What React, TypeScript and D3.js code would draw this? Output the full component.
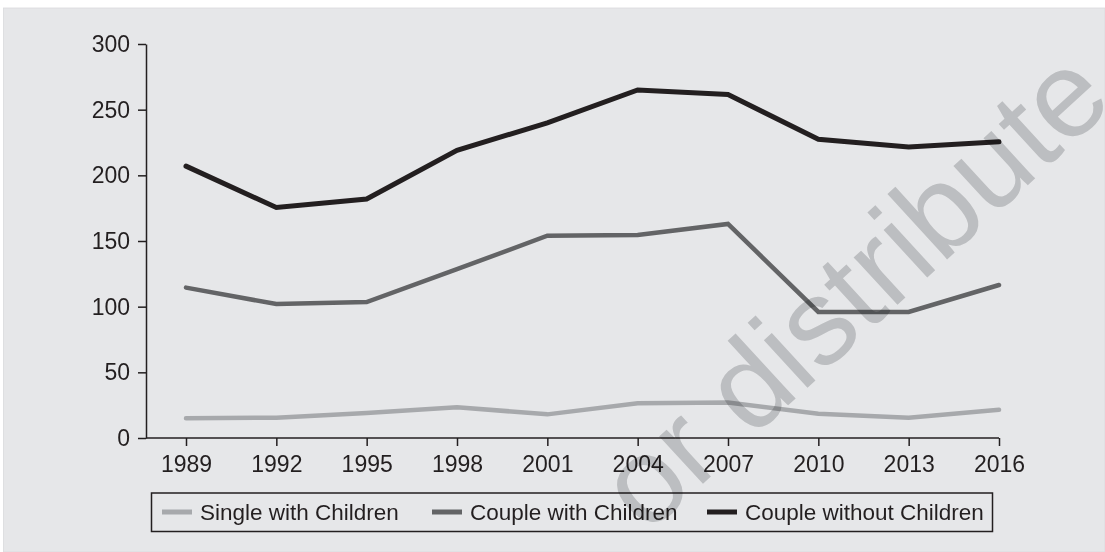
import React, { useEffect, useRef } from "react";
import * as d3 from "d3";

// Survey years on the horizontal axis
const years: number[] = [1989, 1992, 1995, 1998, 2001, 2004, 2007, 2010, 2013, 2016];

// Series values, one per survey year
const singleWithChildren: number[] = [15, 15.5, 19, 23.5, 18, 26.5, 27, 18.5, 15.5, 21.5];
const coupleWithChildren: number[] = [114.5, 102, 103.5, 128.5, 154, 154.5, 163, 96, 96, 116.5];
const coupleWithoutChildren: number[] = [207, 175.5, 182, 219, 240, 265, 261.5, 227.5, 221.5, 225.5];

const seriesNames: string[] = ["Single with Children", "Couple with Children", "Couple without Children"];
const seriesValues: number[][] = [singleWithChildren, coupleWithChildren, coupleWithoutChildren];

const yTicks: number[] = [0, 50, 100, 150, 200, 250, 300];

const watermarkText = "or distribute";

// Styling
const seriesColors = ["#a7a9ac", "#636466", "#231f20"];
const seriesWidths = [4.5, 4.5, 5];
const ink = "#231f20";
const panelFill = "#e6e7e9";
const fontFamily = "'Liberation Sans', Arial, sans-serif";

const W = 1105;
const H = 552;

export default function App() {
  const ref = useRef<SVGSVGElement | null>(null);

  useEffect(() => {
    const svg = d3.select(ref.current);
    svg.selectAll("*").remove();

    // Background panel
    svg
      .append("rect")
      .attr("x", 3.5)
      .attr("y", 8)
      .attr("width", W - 3.5)
      .attr("height", H - 8)
      .attr("fill", panelFill)
      .attr("stroke", "#d9dadc")
      .attr("stroke-width", 0.8);

    const left = 146;
    const x = d3.scalePoint<number>().domain(years).range([186, 999]);
    const y = d3.scaleLinear().domain([0, 300]).range([438, 44]);

    // Y axis
    const gy = svg
      .append("g")
      .attr("transform", `translate(${left},0)`)
      .call(
        d3
          .axisLeft(y)
          .tickValues(yTicks)
          .tickSize(8)
          .tickSizeOuter(0)
          .tickPadding(8)
      );
    gy.select(".domain").attr("stroke", ink).attr("stroke-width", 1.5);
    gy.selectAll(".tick line").attr("stroke", ink).attr("stroke-width", 1.5);
    gy.selectAll(".tick text")
      .attr("fill", ink)
      .style("font-family", fontFamily)
      .style("font-size", "23px");

    // X axis
    const gx = svg
      .append("g")
      .attr("transform", `translate(0,${y(0)})`)
      .call(
        d3
          .axisBottom(x)
          .tickSize(8)
          .tickSizeOuter(0)
          .tickPadding(10)
          .tickFormat((d) => String(d))
      );
    gx.select(".domain").remove();
    gx.append("line")
      .attr("x1", left)
      .attr("x2", x(years[years.length - 1]) as number)
      .attr("y1", 0)
      .attr("y2", 0)
      .attr("stroke", ink)
      .attr("stroke-width", 1.5);
    gx.selectAll(".tick line").attr("stroke", ink).attr("stroke-width", 1.5);
    gx.selectAll(".tick text")
      .attr("fill", ink)
      .style("font-family", fontFamily)
      .style("font-size", "23px");

    // Series lines
    const line = d3
      .line<number>()
      .x((_, i) => x(years[i]) as number)
      .y((d) => y(d));

    seriesValues.forEach((vals, i) => {
      svg
        .append("path")
        .datum(vals)
        .attr("d", line)
        .attr("fill", "none")
        .attr("stroke", seriesColors[i])
        .attr("stroke-width", seriesWidths[i])
        .attr("stroke-linecap", "round")
        .attr("stroke-linejoin", "miter");
    });

    // Legend
    const legend = svg.append("g");
    legend
      .append("rect")
      .attr("x", 151.5)
      .attr("y", 493)
      .attr("width", 841)
      .attr("height", 38.5)
      .attr("fill", "none")
      .attr("stroke", ink)
      .attr("stroke-width", 1.5);

    const itemStarts = [162, 432, 707];
    seriesNames.forEach((name, i) => {
      const sx = itemStarts[i];
      legend
        .append("line")
        .attr("x1", sx)
        .attr("x2", sx + 30)
        .attr("y1", 512)
        .attr("y2", 512)
        .attr("stroke", seriesColors[i])
        .attr("stroke-width", 5);
      legend
        .append("text")
        .attr("x", sx + 38)
        .attr("y", 520)
        .attr("fill", ink)
        .style("font-family", fontFamily)
        .style("font-size", "22.5px")
        .text(name);
    });

    // Diagonal watermark, multiplied over the chart
    svg
      .append("text")
      .attr("transform", "translate(1116,104) rotate(-42.6)")
      .attr("text-anchor", "end")
      .attr("fill", "#d1d2d3")
      .style("mix-blend-mode", "multiply")
      .style("font-family", fontFamily)
      .style("font-size", "122px")
      .text(watermarkText);
  }, []);

  return (
    <svg
      ref={ref}
      width={W}
      height={H}
      style={{ position: "absolute", left: 0, top: 0, background: "#fff" }}
    />
  );
}
